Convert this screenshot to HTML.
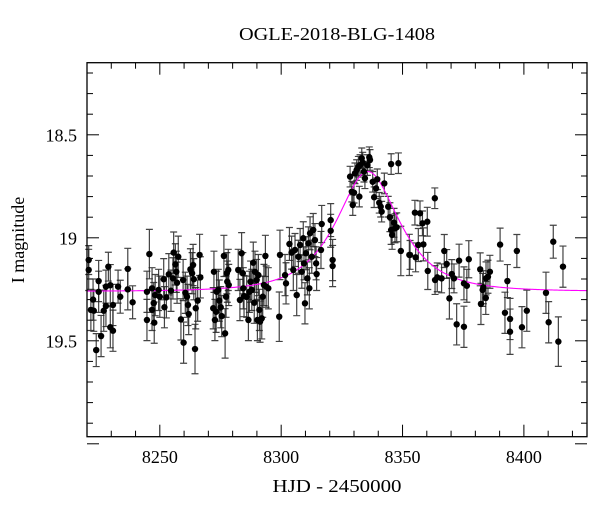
<!DOCTYPE html>
<html><head><meta charset="utf-8"><style>
html,body{margin:0;padding:0;background:#fff;}
svg{display:block;font-family:"Liberation Serif",serif;}
</style></head><body>
<svg id="chart" width="600" height="512" viewBox="0 0 600 512" xmlns="http://www.w3.org/2000/svg">
<text x="337" y="40" font-size="18" text-anchor="middle" textLength="196" lengthAdjust="spacingAndGlyphs">OGLE-2018-BLG-1408</text>
<text x="337" y="492" font-size="18" text-anchor="middle" textLength="129" lengthAdjust="spacingAndGlyphs">HJD - 2450000</text>
<text x="0" y="0" font-size="18" text-anchor="middle" transform="translate(24,240) rotate(-90)">I magnitude</text>
<g id="ticks"></g>
<g id="labels"></g>
<g id="errs"></g>
<path id="model" fill="none" stroke="#ff00ff" stroke-width="1.1"/>
<g id="pts"></g>
<rect x="87" y="62.7" width="500" height="374" fill="none" stroke="#000" stroke-width="1.3"/>
</svg>
<script>
const xTicks=[8250,8300,8350,8400];
const yTicks=[18.5,19,19.5];
const xTickLabels=["8250","8300","8350","8400"];
const yTickLabels=["18.5","19","19.5"];
const times=[8220.7,8220.7,8222.5,8221.6,8222.8,8223.8,8225.8,8224.8,8224.8,8226.9,8227.8,8227.8,8228.8,8229.6,8229.6,8230.7,8230.7,8232.8,8233.7,8236.8,8236.8,8238.8,8244.7,8244.7,8245.7,8246.8,8246.8,8247.7,8247.5,8248.1,8249.5,8250,8251.6,8251.9,8252.7,8253.7,8254.6,8255.4,8255.7,8256.4,8256.8,8257.1,8257.6,8258.7,8259.6,8259.8,8260.5,8261.2,8261.6,8261.9,8262.6,8263.3,8263.7,8264,8264.5,8264.8,8265.6,8266.4,8266.7,
8272.3,8272.0,8272.7,8273.2,8273.4,8274.1,8274.5,8275.1,8275.5,8276.4,8276.9,8277.3,8277.6,8277.8,8278.2,8278.4,8282.3,8283,8283.7,8284.2,8284.4,8284.7,8285.8,8286.5,8286.9,8287.4,8287.9,8288.5,8288.9,8289.2,8289.9,8290.2,8290.6,8291,8291.3,8292,8292.4,8292.9,8293.5,8293.8,8294.7,
8299.2,8299.5,8301.6,8302,8303.4,8304.3,8305,8305.7,8306.4,8307.1,8307.8,8308.5,8309.1,8309.4,8309.8,8310.2,8310.8,8311.2,8311.6,8311.9,8312.6,8313.2,8313.9,8314.4,8314.6,
8316.7,8316.4,8320.4,8320.4,8321.2,8321.2,8328.4,8329.1,8329.5,8330,8330.4,8331.1,8331.8,8332.5,8333.2,8333.6,8332.2,8334.1,8334.5,8335.5,8336.3,8336.6,8337.7,8338.3,8339.1,8339.6,8340.4,8341,8341.4,8342.5,8344.1,8344.8,8345.3,8345.7,8346.5,8346.9,8347.6,8345.3,8348.3,8349.3,8352.8,
8353.1,8355.1,8355.4,8356.5,8357.2,8358.2,8358.6,8360.2,8360.4,8363.3,8363.4,8364.3,8366.1,8367.2,8368.2,8369.3,8370.3,8371.2,8372.3,8373.3,8375.3,8375.3,8376.5,8377.3,8382,8382.3,8383,8383.3,8384.3,8384.4,8385.2,8386,8390.2,8392.2,8393.2,8394.3,8394.3,8397.1,8399.2,8401.2,8409.1,8410.2,8412.1,8414.2,8416.1];
const mags=[19.108,19.156,19.30,19.35,19.354,19.545,19.477,19.21,19.262,19.354,19.331,19.237,19.14,19.23,19.434,19.451,19.326,19.237,19.286,19.151,19.25,19.313,19.399,19.262,19.079,19.245,19.35,19.412,19.317,19.278,19.253,19.286,19.201,19.337,19.289,19.177,19.257,19.197,19.072,19.129,19.165,19.218,19.092,19.396,19.205,19.509,19.267,19.286,19.326,19.37,19.153,19.172,19.132,19.201,19.54,19.342,19.305,19.083,19.192,
19.165,19.342,19.399,19.359,19.262,19.253,19.305,19.337,19.38,19.088,19.464,19.286,19.172,19.213,19.156,19.229,19.156,19.302,19.075,19.172,19.245,19.283,19.286,19.399,19.262,19.213,19.253,19.121,19.315,19.165,19.205,19.399,19.181,19.35,19.407,19.391,19.286,19.229,19.088,19.237,19.245,
19.383,19.083,19.181,19.221,19.03,19.072,19.156,19.059,19.278,19.092,19.035,19.165,19.002,19.124,19.318,19.075,19.197,19.027,19.245,18.978,19.092,18.962,19.011,19.124,19.176,
18.933,19.059,18.914,18.966,19.108,19.137,18.703,18.776,18.841,18.781,18.687,18.671,18.655,18.647,18.614,18.635,18.80,18.679,18.711,18.647,18.609,18.622,18.728,18.803,18.76,18.716,18.83,18.849,18.873,18.736,18.849,18.90,18.962,18.986,18.927,18.954,18.949,18.642,18.638,19.064,19.083,
19.083,18.878,19.095,19.035,18.881,18.93,19.032,18.922,19.161,18.808,19.205,19.192,19.197,19.064,19.127,19.294,19.176,19.197,19.42,19.111,19.221,19.432,19.233,19.104,19.153,19.321,19.253,19.24,19.292,19.197,19.189,19.165,19.033,19.364,19.21,19.394,19.456,19.064,19.434,19.354,19.267,19.41,19.019,19.504,19.14];
const errs=[0.07,0.1,0.1,0.1,0.1,0.08,0.1,0.1,0.1,0.1,0.1,0.08,0.07,0.1,0.1,0.1,0.1,0.08,0.08,0.1,0.1,0.08,0.1,0.1,0.12,0.1,0.1,0.1,0.1,0.1,0.1,0.1,0.1,0.1,0.1,0.1,0.1,0.1,0.1,0.1,0.1,0.1,0.1,0.1,0.1,0.1,0.1,0.1,0.1,0.1,0.1,0.1,0.1,0.1,0.12,0.1,0.1,0.1,0.1,
0.1,0.1,0.1,0.1,0.1,0.1,0.1,0.1,0.1,0.1,0.12,0.1,0.1,0.1,0.1,0.1,0.1,0.1,0.1,0.1,0.1,0.1,0.1,0.1,0.1,0.1,0.1,0.1,0.1,0.1,0.1,0.1,0.1,0.1,0.1,0.1,0.1,0.1,0.1,0.1,0.1,
0.12,0.12,0.1,0.1,0.08,0.08,0.1,0.08,0.1,0.08,0.08,0.08,0.08,0.08,0.1,0.08,0.08,0.08,0.1,0.08,0.08,0.08,0.08,0.08,0.08,
0.09,0.09,0.08,0.08,0.1,0.1,0.05,0.05,0.05,0.05,0.05,0.05,0.05,0.05,0.05,0.05,0.05,0.05,0.05,0.05,0.05,0.05,0.05,0.05,0.05,0.05,0.05,0.05,0.05,0.05,0.05,0.07,0.07,0.07,0.07,0.07,0.07,0.05,0.05,0.12,0.1,
0.07,0.06,0.07,0.08,0.06,0.06,0.08,0.07,0.09,0.05,0.07,0.07,0.07,0.08,0.07,0.1,0.07,0.07,0.1,0.08,0.08,0.1,0.08,0.09,0.08,0.1,0.08,0.08,0.08,0.08,0.08,0.08,0.08,0.1,0.08,0.1,0.11,0.08,0.1,0.1,0.1,0.1,0.08,0.12,0.1];
const modelT0=[8335.7];
const modelTE=[19.2];
const modelU0=[0.683];
const modelBase=[19.26];

const X=t=>87+(t-8220)*500/206;
const Y=m=>62.7+(m-18.15)*206;
const NS="http://www.w3.org/2000/svg";
function mk(tag,parent,attrs){const e=document.createElementNS(NS,tag);for(const k in attrs)e.setAttribute(k,attrs[k]);parent.appendChild(e);return e;}
const tg=document.getElementById('ticks'),lg=document.getElementById('labels');
// x ticks (every 10 days, major at 50)
for(let t=8220;t<=8426;t+=10){const x=X(t);const L=(t%50===0)?12:6;
 const a=mk('line',tg,{x1:x,x2:x,y1:436.7,y2:436.7-L,stroke:'#000','stroke-width':1});
 
 
 const b=mk('line',tg,{x1:x,x2:x,y1:62.7,y2:62.7+L,stroke:'#000','stroke-width':1});
 
 }
for(let i=0;i<=18;i++){const m=18.2+i*0.1;const y=Y(m);const major=Math.abs(m*2-Math.round(m*2))<1e-6;const L=major?12:6;
 const a=mk('line',tg,{x1:87,x2:87+L,y1:y,y2:y,stroke:'#000','stroke-width':1});
 
 
 const b=mk('line',tg,{x1:587,x2:587-L,y1:y,y2:y,stroke:'#000','stroke-width':1});
 
 }
xTicks.forEach((t,i)=>{const e=mk('text',lg,{x:X(t),y:463,'font-size':18,'text-anchor':'middle'});e.textContent=xTickLabels[i];
 
 });
yTicks.forEach((m,i)=>{const e=mk('text',lg,{x:77,y:Y(m)+6.5,'font-size':18,'text-anchor':'end'});e.textContent=yTickLabels[i];
 
 });
// model
function A(u){return (u*u+2)/(u*Math.sqrt(u*u+4));}
let d='';
for(let x=87;x<=587;x+=1){const t=8220+(x-87)*206/500;const tau=(t-modelT0[0])/modelTE[0];const u=Math.sqrt(tau*tau+modelU0[0]*modelU0[0]);
 const m=modelBase[0]-2.5*Math.log10(A(u));d+=(d?'L':'M')+x+','+Y(m).toFixed(2);}
document.getElementById('model').setAttribute('d',d);
// data
const eg=document.getElementById('errs'),pg=document.getElementById('pts');
times.forEach((t,i)=>{const x=X(t),y=Y(mags[i]),e=errs[i]*206;
 const g=mk('path',eg,{d:`M${x},${y-e}V${y+e}M${x-3.5},${y-e}H${x+3.5}M${x-3.5},${y+e}H${x+3.5}`,stroke:'#222','stroke-width':1.2,fill:'none','stroke-opacity':0.85});
 
 
 const c=mk('circle',pg,{cx:x,cy:y,r:3.2,fill:'#000'});
 
 });
</script>
</body></html>
